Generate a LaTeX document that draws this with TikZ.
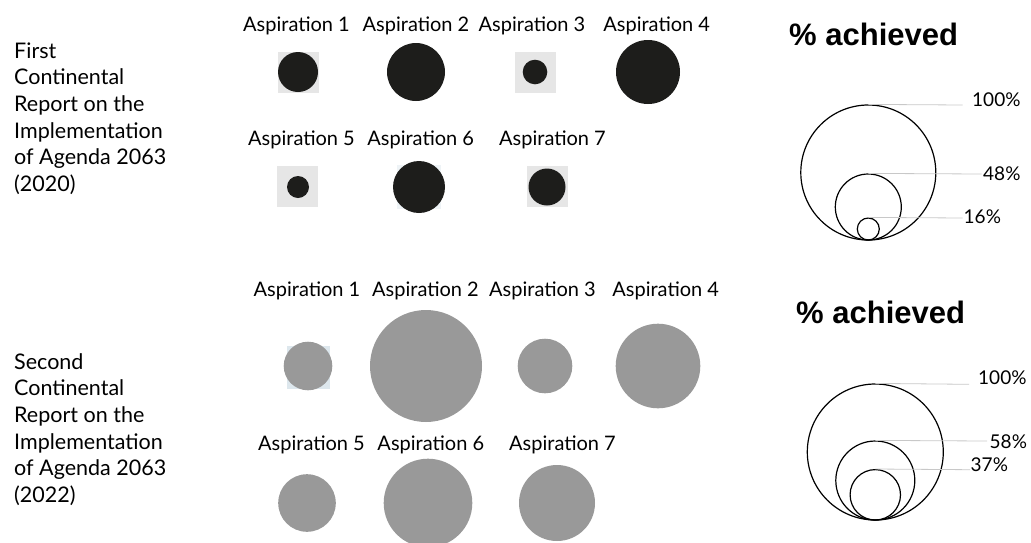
\documentclass[tikz,border=0pt]{standalone}
\usepackage{fontspec}
\setmainfont{Lato}
\newfontfamily\headfont{Liberation Sans}
\definecolor{dark}{HTML}{1D1D1B}
\definecolor{sq}{HTML}{E6E6E6}
\definecolor{mid}{HTML}{999999}
\definecolor{cornerc}{HTML}{DDE7ED}
\definecolor{cornerd}{HTML}{EEF3F6}
\definecolor{leadc}{HTML}{C8C8C8}
\begin{document}
\begin{tikzpicture}[x=1pt,y=-1pt,
  lab/.style={font=\fontsize{20}{24}\selectfont, inner sep=0pt, anchor=base},
  side/.style={font=\fontsize{21.5}{26.7}\selectfont, align=left, inner sep=0pt, anchor=north west},
  head/.style={font=\headfont\bfseries\fontsize{31}{36}\selectfont, inner sep=0pt, anchor=base west},
  pct/.style={font=\fontsize{19}{22}\selectfont, inner sep=0pt, anchor=base west},
  blk/.style={circle, fill=dark, inner sep=0pt, minimum size=#1},
  gry/.style={circle, fill=mid, inner sep=0pt, minimum size=#1},
  bg/.style={rectangle, fill=sq, inner sep=0pt, minimum size=#1},
  bgc/.style={rectangle, fill=cornerc, inner sep=0pt, minimum size=#1},
  bgd/.style={rectangle, fill=cornerd, inner sep=0pt, minimum size=#1},
  ring/.style={circle, draw=black, line width=1.2pt, inner sep=0pt, minimum size=#1},
  lead/.style={draw=leadc, line width=0.8pt}]
\useasboundingbox (0,0) rectangle (1031,542);

% ---------- left titles ----------
\node[side] (t1) at (14,42.3) {First\\Continental\\Report on the\\Implementation\\of Agenda 2063\\(2020)};
\node[side] (t2) at (14,353) {Second\\Continental\\Report on the\\Implementation\\of Agenda 2063\\(2022)};

% ---------- first report ----------
\node[lab] (a1) at (296.5,31) {Aspiration 1};
\node[lab] (a2) at (416,31) {Aspiration 2};
\node[lab] (a3) at (532,31) {Aspiration 3};
\node[lab] (a4) at (656.7,31) {Aspiration 4};
\node[bg=41] (s1) at (298.5,72) {};
\node[blk=40] (c1) at (298,72) {};
\node[blk=58] (c2) at (416,72) {};
\node[bg=41] (s3) at (535.5,72) {};
\node[blk=24.6] (c3) at (535,72) {};
\node[blk=64] (c4) at (648,72) {};

\node[lab] (a5) at (301.5,145) {Aspiration 5};
\node[lab] (a6) at (420.7,145) {Aspiration 6};
\node[lab] (a7) at (552.5,145) {Aspiration 7};
\node[bg=41] (s5) at (297.5,186.5) {};
\node[blk=22] (c5) at (298,187) {};
\node[bgd=44] (s6) at (419,187) {};
\node[blk=52] (c6) at (419,187) {};
\node[bg=41] (s7) at (547.5,186.5) {};
\node[blk=37] (c7) at (547,187) {};

% ---------- second report ----------
\node[lab] (b1) at (307,296.7) {Aspiration 1};
\node[lab] (b2) at (425.5,296.7) {Aspiration 2};
\node[lab] (b3) at (542.5,296.7) {Aspiration 3};
\node[lab] (b4) at (665.7,296.7) {Aspiration 4};
\node[bgc=43] (r1) at (308,367) {};
\node[gry=48.6] (d1) at (308,366) {};
\node[gry=112] (d2) at (426,366) {};
\node[gry=54.6] (d3) at (545,366) {};
\node[gry=84.6] (d4) at (658,366) {};

\node[lab] (b5) at (311.5,450) {Aspiration 5};
\node[lab] (b6) at (430.8,450) {Aspiration 6};
\node[lab] (b7) at (562.5,450) {Aspiration 7};
\node[gry=57.6] (d5) at (307,503) {};
\node[gry=88.6] (d6) at (428,503) {};
\node[gry=76] (d7) at (557,503) {};

% ---------- legend 1 ----------
\node[head] (h1) at (789,45) {\% achieved};
\node[ring=135] (g1) at (868.3,172.5) {};
\node[ring=66] (g2) at (868.3,207) {};
\node[ring=22] (g3) at (868.3,229) {};
\coordinate (e1) at (962.7,105);
\coordinate (e2) at (981.7,174);
\coordinate (e3) at (962.7,218);
\draw[lead] (g1.north) -- (e1);
\draw[lead] (g2.north) -- (e2);
\draw[lead] (g3.north) -- (e3);
\node[pct] (p1) at (972,106) {100\%};
\node[pct] (p2) at (983,180.5) {48\%};
\node[pct] (p3) at (963.5,223) {16\%};

% ---------- legend 2 ----------
\node[head] (h2) at (796,323) {\% achieved};
\node[ring=136] (k1) at (875.3,452) {};
\node[ring=79] (k2) at (875.3,480.5) {};
\node[ring=50.4] (k3) at (875.3,494.8) {};
\coordinate (f1) at (969,384.3);
\coordinate (f2) at (987,441);
\coordinate (f3) at (970,469.7);
\draw[lead] (k1.north) -- (f1);
\draw[lead] (k2.north) -- (f2);
\draw[lead] (k3.north) -- (f3);
\node[pct] (q1) at (978,384.5) {100\%};
\node[pct] (q2) at (989.5,448) {58\%};
\node[pct] (q3) at (970.5,471.5) {37\%};
\end{tikzpicture}
\end{document}
